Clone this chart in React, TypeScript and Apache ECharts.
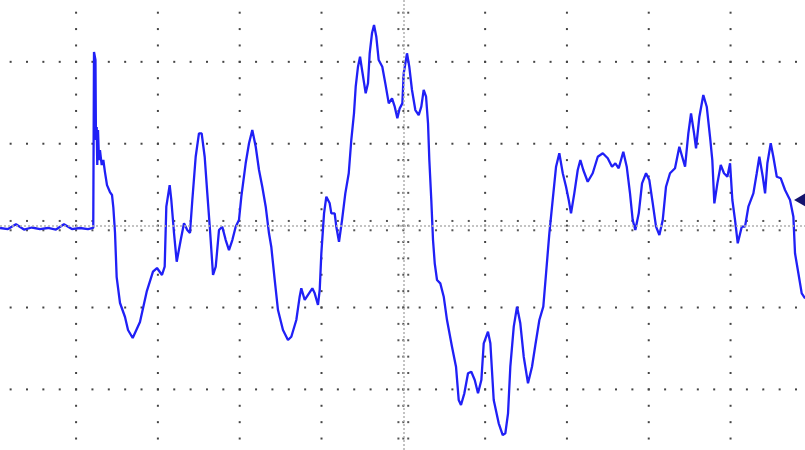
import React, { useEffect, useRef } from "react";
import * as echarts from "echarts";

// Oscilloscope trace, in screen divisions (time, voltage)
const timeDiv = [
  -4.930, -4.833, -4.735, -4.637, -4.540, -4.442, -4.344, -4.246, -4.148, -4.051,
  -3.953, -3.855, -3.790, -3.781, -3.763, -3.757, -3.748, -3.741, -3.732, -3.720,
  -3.708, -3.687, -3.667, -3.647, -3.622, -3.586, -3.561, -3.545, -3.524, -3.504,
  -3.463, -3.402, -3.365, -3.308, -3.219, -3.137, -3.060, -3.011, -2.950, -2.917,
  -2.897, -2.856, -2.836, -2.803, -2.770, -2.721, -2.681, -2.641, -2.608, -2.579,
  -2.538, -2.498, -2.465, -2.428, -2.396, -2.363, -2.326, -2.293, -2.253, -2.213,
  -2.171, -2.131, -2.090, -2.049, -2.009, -1.980, -1.927, -1.886, -1.846, -1.804,
  -1.764, -1.724, -1.682, -1.642, -1.614, -1.572, -1.532, -1.471, -1.410, -1.369,
  -1.308, -1.267, -1.247, -1.205, -1.165, -1.112, -1.083, -1.043, -1.022, -1.002,
  -0.969, -0.941, -0.900, -0.880, -0.839, -0.819, -0.786, -0.749, -0.709, -0.667,
  -0.636, -0.603, -0.582, -0.554, -0.529, -0.501, -0.460, -0.432, -0.411, -0.383,
  -0.358, -0.330, -0.301, -0.257, -0.220, -0.178, -0.138, -0.105, -0.073, -0.044,
  -0.012, 0.005, 0.045, 0.073, 0.106, 0.147, 0.188, 0.220, 0.249, 0.278,
  0.302, 0.318, 0.342, 0.363, 0.384, 0.412, 0.452, 0.494, 0.534, 0.595,
  0.644, 0.677, 0.705, 0.746, 0.791, 0.831, 0.873, 0.913, 0.954, 0.983,
  1.035, 1.064, 1.105, 1.166, 1.215, 1.247, 1.280, 1.308, 1.350, 1.390,
  1.430, 1.472, 1.524, 1.573, 1.614, 1.663, 1.711, 1.745, 1.785, 1.826,
  1.867, 1.907, 1.949, 1.989, 2.022, 2.050, 2.090, 2.132, 2.164, 2.200,
  2.254, 2.315, 2.377, 2.438, 2.499, 2.551, 2.592, 2.633, 2.689, 2.731,
  2.771, 2.804, 2.836, 2.878, 2.918, 2.967, 3.007, 3.049, 3.089, 3.130,
  3.171, 3.211, 3.260, 3.321, 3.374, 3.444, 3.484, 3.517, 3.554, 3.578,
  3.619, 3.667, 3.709, 3.749, 3.777, 3.802, 3.839, 3.880, 3.920, 3.961,
  3.994, 4.022, 4.055, 4.088, 4.137, 4.177, 4.218, 4.279, 4.320, 4.352,
  4.394, 4.422, 4.450, 4.491, 4.523, 4.565, 4.614, 4.666, 4.727, 4.768,
  4.788, 4.829, 4.870, 4.911,
];

const voltDiv = [
  -0.029, -0.042, 0.017, -0.048, -0.023, -0.042, -0.029, -0.048, 0.017, -0.042,
  -0.029, -0.042, -0.029, 2.120, 2.022, 1.045, 1.204, 0.740, 1.167, 0.801,
  0.923, 0.740, 0.801, 0.654, 0.495, 0.410, 0.374, 0.227, -0.090, -0.628,
  -0.945, -1.116, -1.275, -1.372, -1.177, -0.807, -0.563, -0.518, -0.603, -0.502,
  0.231, 0.495, 0.313, -0.090, -0.441, -0.176, 0.028, -0.054, -0.090, 0.313,
  0.841, 1.127, 1.127, 0.841, 0.394, -0.054, -0.603, -0.502, -0.054, -0.013,
  -0.176, -0.298, -0.176, -0.013, 0.068, 0.353, 0.761, 1.005, 1.167, 0.963,
  0.679, 0.475, 0.231, -0.094, -0.258, -0.664, -1.031, -1.275, -1.397, -1.357,
  -1.153, -0.868, -0.766, -0.908, -0.847, -0.766, -0.827, -0.969, -0.786, -0.338,
  0.150, 0.353, 0.272, 0.150, 0.150, -0.013, -0.197, 0.068, 0.394, 0.639,
  1.045, 1.371, 1.696, 1.940, 2.062, 1.879, 1.615, 1.737, 2.104, 2.348,
  2.449, 2.306, 2.022, 1.940, 1.737, 1.493, 1.554, 1.452, 1.310, 1.432,
  1.493, 1.860, 2.104, 1.940, 1.656, 1.411, 1.350, 1.452, 1.656, 1.574,
  1.249, 0.801, 0.313, -0.176, -0.460, -0.664, -0.705, -0.868, -1.153, -1.479,
  -1.723, -2.129, -2.190, -2.048, -1.803, -1.784, -1.885, -2.048, -1.885, -1.437,
  -1.295, -1.437, -2.129, -2.414, -2.557, -2.536, -2.292, -1.723, -1.234, -0.990,
  -1.193, -1.601, -1.926, -1.723, -1.458, -1.153, -0.990, -0.582, -0.094, 0.313,
  0.719, 0.883, 0.639, 0.475, 0.313, 0.150, 0.394, 0.679, 0.801, 0.679,
  0.536, 0.639, 0.841, 0.883, 0.822, 0.719, 0.761, 0.700, 0.902, 0.719,
  0.394, 0.068, -0.054, 0.150, 0.516, 0.639, 0.557, 0.272, -0.013, -0.115,
  0.068, 0.475, 0.639, 0.700, 0.963, 0.719, 1.127, 1.371, 1.127, 0.944,
  1.330, 1.595, 1.452, 1.085, 0.801, 0.272, 0.516, 0.740, 0.639, 0.597,
  0.761, 0.313, 0.068, -0.216, -0.013, -0.013, 0.231, 0.394, 0.639, 0.841,
  0.597, 0.394, 0.761, 1.005, 0.841, 0.597, 0.578, 0.435, 0.313, 0.109,
  -0.338, -0.582, -0.827, -0.888,
];

// Graticule (divisions)
const verticalLines = [-4, -3, -2, -1, 1, 2, 3, 4];
const horizontalLines = [-2, -1, 1, 2];
const triggerLevel = [[4.85, 0.313]];

const X_MIN = -4.93;
const X_MAX = 4.91;
const Y_MIN = -2.74;
const Y_MAX = 2.755;
const MINOR = 0.2;
const TICK_Y = 0.057;
const TICK_X = 0.06;

export default function App() {
  const ref = useRef<HTMLDivElement>(null);

  useEffect(() => {
    if (!ref.current) return;
    const chart = echarts.init(ref.current, undefined, { renderer: "svg" });

    const gridDots: number[][] = [];
    for (const x of verticalLines) {
      for (let k = -13; k <= 13; k++) gridDots.push([x, k * MINOR]);
    }
    for (const y of horizontalLines) {
      for (let k = -24; k <= 24; k++) gridDots.push([k * MINOR, y]);
    }
    const centerTicks: number[][] = [];
    for (let k = -24; k <= 24; k++) {
      centerTicks.push([k * MINOR, TICK_Y], [k * MINOR, -TICK_Y]);
    }
    for (let k = -13; k <= 13; k++) {
      centerTicks.push([TICK_X, k * MINOR], [-TICK_X, k * MINOR], [0, k * MINOR]);
    }

    const trace = timeDiv.map((t, i) => [t, voltDiv[i]]);

    chart.setOption({
      animation: false,
      backgroundColor: "#ffffff",
      grid: { left: 0, right: 0, top: 0, bottom: 0 },
      xAxis: {
        type: "value",
        min: X_MIN,
        max: X_MAX,
        axisLine: { show: false },
        axisTick: { show: false },
        axisLabel: { show: false },
        splitLine: { show: false },
      },
      yAxis: {
        type: "value",
        min: Y_MIN,
        max: Y_MAX,
        axisLine: { show: false },
        axisTick: { show: false },
        axisLabel: { show: false },
        splitLine: { show: false },
      },
      series: [
        {
          type: "scatter",
          silent: true,
          symbol: "rect",
          symbolSize: 2,
          itemStyle: { color: "#444444", opacity: 1 },
          data: gridDots,
          z: 1,
          markLine: {
            silent: true,
            symbol: "none",
            label: { show: false },
            lineStyle: { color: "#b0b0b0", width: 1.5, type: [2, 2] },
            data: [{ xAxis: 0 }, { yAxis: 0 }],
          },
        },
        {
          type: "scatter",
          silent: true,
          symbol: "rect",
          symbolSize: 2,
          itemStyle: { color: "#555555", opacity: 1 },
          data: centerTicks,
          z: 1,
        },
        {
          type: "line",
          data: trace,
          showSymbol: false,
          symbol: "none",
          lineStyle: { color: "#2020f6", width: 2.3 },
          z: 3,
        },
        {
          type: "scatter",
          silent: true,
          symbol: "triangle",
          symbolRotate: 90,
          symbolSize: [14, 12],
          itemStyle: { color: "#14146e", opacity: 1 },
          data: triggerLevel,
          z: 4,
        },
      ],
    });

    return () => chart.dispose();
  }, []);

  return (
    <div
      ref={ref}
      style={{ position: "fixed", left: 0, top: 0, width: 805, height: 450, background: "#fff" }}
    />
  );
}
